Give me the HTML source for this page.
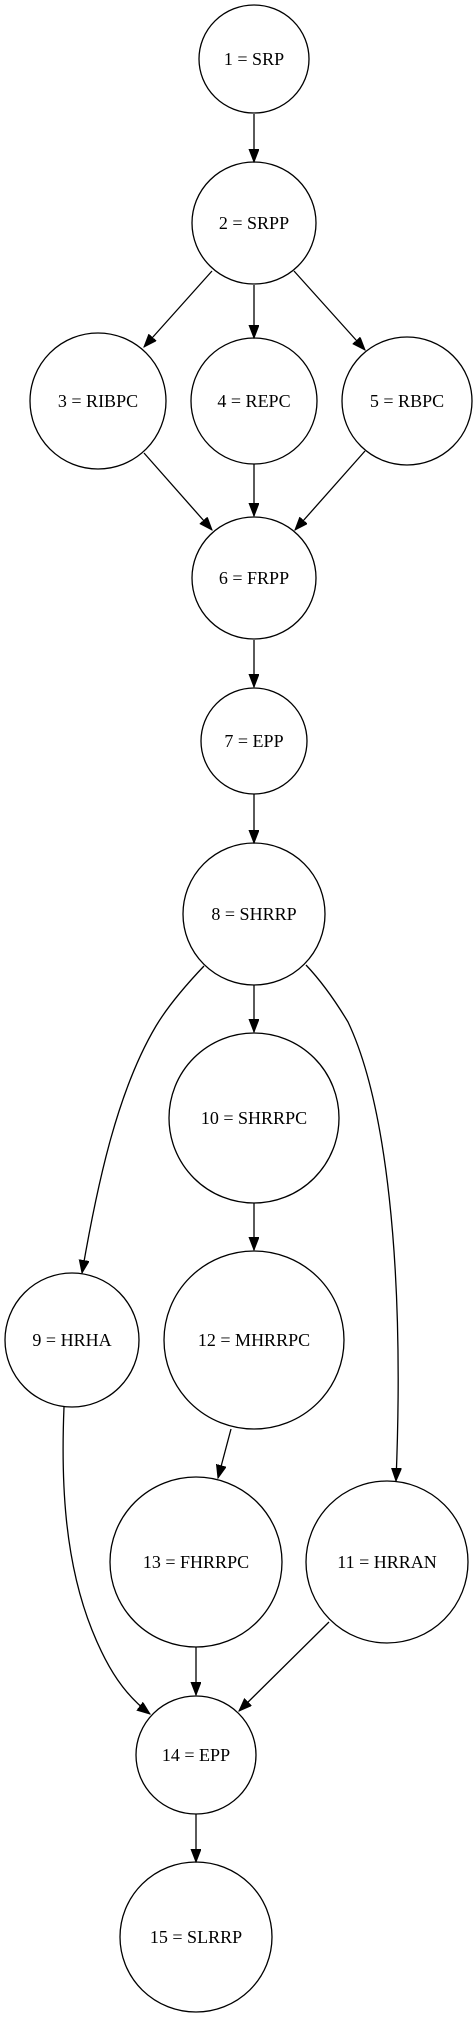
<!DOCTYPE html>
<html><head><meta charset="utf-8"><style>
html,body{margin:0;padding:0;background:#fff;}
svg{display:block;}
text{font-family:"Liberation Serif",serif;font-size:18px;fill:#000;text-anchor:middle;dominant-baseline:central;}
.n{fill:none;stroke:#000;stroke-width:1.3;}
.e{fill:none;stroke:#000;stroke-width:1.3;}
</style></head><body>
<svg width="474" height="2019" viewBox="0 0 474 2019" xmlns="http://www.w3.org/2000/svg">
<defs>
<marker id="a" markerUnits="userSpaceOnUse" markerWidth="14" markerHeight="12" refX="13" refY="5" orient="auto">
<path d="M0,0 L13,5 L0,10 Z" fill="#000" stroke="#000" stroke-width="1"/>
</marker>
</defs>
<ellipse class="n" cx="254" cy="59" rx="55" ry="54"/><text x="254" y="59">1 = SRP</text>
<ellipse class="n" cx="254" cy="223" rx="62" ry="61"/><text x="254" y="223">2 = SRPP</text>
<ellipse class="n" cx="98" cy="401" rx="68" ry="68"/><text x="98" y="401">3 = RIBPC</text>
<ellipse class="n" cx="254" cy="401" rx="63" ry="63"/><text x="254" y="401">4 = REPC</text>
<ellipse class="n" cx="407" cy="401" rx="65" ry="64"/><text x="407" y="401">5 = RBPC</text>
<ellipse class="n" cx="254" cy="578" rx="62" ry="61"/><text x="254" y="578">6 = FRPP</text>
<ellipse class="n" cx="254" cy="741" rx="53" ry="53"/><text x="254" y="741">7 = EPP</text>
<ellipse class="n" cx="254" cy="914" rx="71" ry="71"/><text x="254" y="914">8 = SHRRP</text>
<ellipse class="n" cx="254" cy="1118" rx="85" ry="85"/><text x="254" y="1118">10 = SHRRPC</text>
<ellipse class="n" cx="72" cy="1340" rx="67" ry="67"/><text x="72" y="1340">9 = HRHA</text>
<ellipse class="n" cx="254" cy="1340" rx="90" ry="89"/><text x="254" y="1340">12 = MHRRPC</text>
<ellipse class="n" cx="196" cy="1562" rx="86" ry="85"/><text x="196" y="1562">13 = FHRRPC</text>
<ellipse class="n" cx="387" cy="1562" rx="81" ry="81"/><text x="387" y="1562">11 = HRRAN</text>
<ellipse class="n" cx="196" cy="1755" rx="60" ry="59"/><text x="196" y="1755">14 = EPP</text>
<ellipse class="n" cx="196" cy="1937" rx="76" ry="75"/><text x="196" y="1937">15 = SLRRP</text>
<path class="e" marker-end="url(#a)" d="M254,114 L254,162"/>
<path class="e" marker-end="url(#a)" d="M212,271 L144,347"/>
<path class="e" marker-end="url(#a)" d="M254,285 L254,338"/>
<path class="e" marker-end="url(#a)" d="M294,271 L365,350"/>
<path class="e" marker-end="url(#a)" d="M144,453 L212,530"/>
<path class="e" marker-end="url(#a)" d="M254,464 L254,516"/>
<path class="e" marker-end="url(#a)" d="M365,451 L295,530"/>
<path class="e" marker-end="url(#a)" d="M254,640 L254,687"/>
<path class="e" marker-end="url(#a)" d="M254,794 L254,843"/>
<path class="e" marker-end="url(#a)" d="M254,985 L254,1032"/>
<path class="e" marker-end="url(#a)" d="M254,1203 L254,1250"/>
<path class="e" marker-end="url(#a)" d="M231,1429 L218,1478"/>
<path class="e" marker-end="url(#a)" d="M196,1647 L196,1695"/>
<path class="e" marker-end="url(#a)" d="M196,1814 L196,1862"/>
<path class="e" marker-end="url(#a)" d="M204,966 C185,986 168,1006 156,1026 C118,1090 98,1180 82,1273"/>
<path class="e" marker-end="url(#a)" d="M306,965 C323,983 336,1002 348,1022 C385,1100 405,1260 396,1481"/>
<path class="e" marker-end="url(#a)" d="M64,1407 C61,1480 64,1560 92,1630 C108,1670 125,1695 150,1714"/>
<path class="e" marker-end="url(#a)" d="M329,1622 L239,1711"/>
</svg>
</body></html>
